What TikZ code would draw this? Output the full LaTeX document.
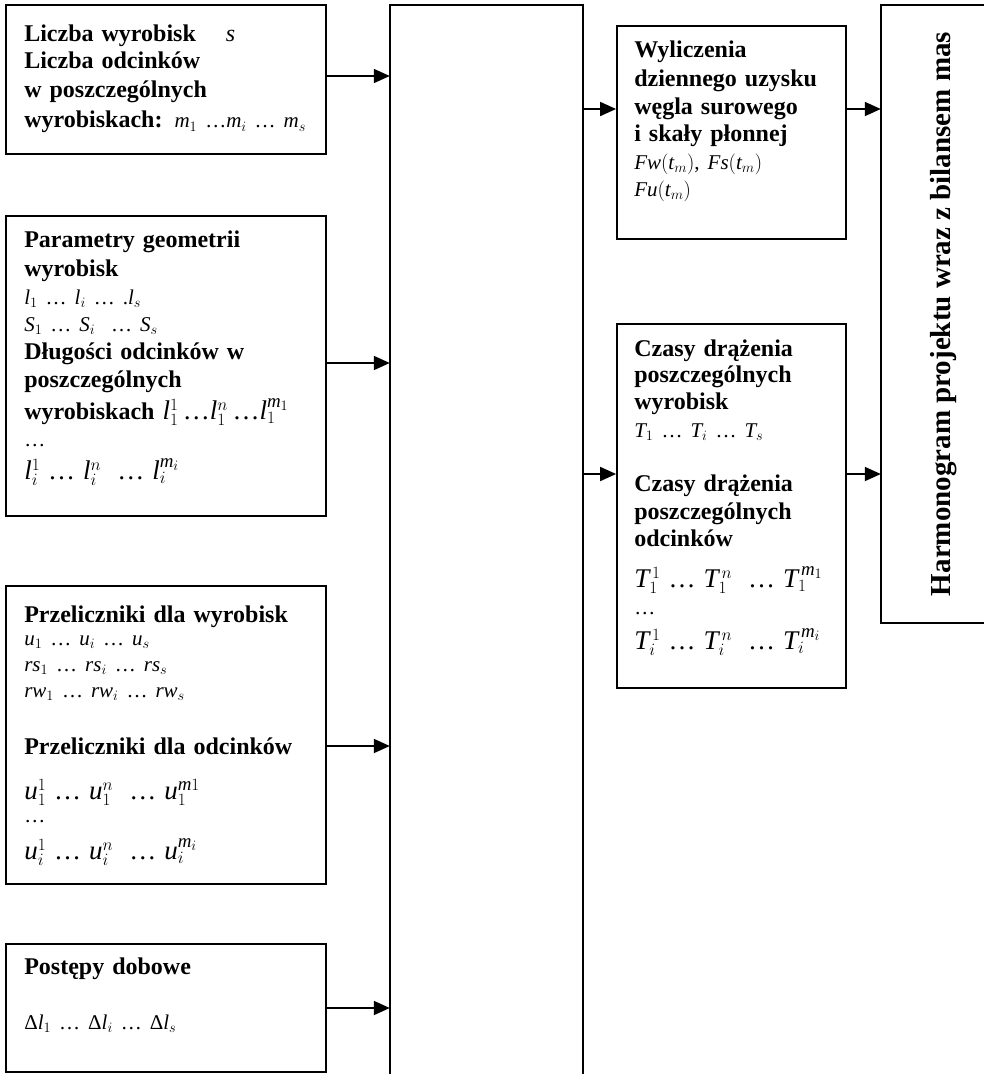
\documentclass[tikz,border=0pt]{standalone}
\usepackage{fontspec}
\setmainfont{Liberation Serif}
\usetikzlibrary{arrows.meta,positioning}
\newcommand{\zm}[1]{\mathit{#1}}
\newcommand{\mniej}{\fontsize{21}{28}\selectfont}
\newcommand{\wiecej}{\fontsize{27}{28}\selectfont}
\newcommand{\tekst}{\fontsize{24}{28}\selectfont\lineskiplimit=-100pt\relax\lineskip=0pt\relax}
\tikzset
{
    blok/.style  = {rectangle, draw=black, line width=1.8pt, inner sep=0pt},
    pole/.style  = {rectangle, inner sep=0pt},
    opis/.style  = {anchor=north west, inner sep=0pt, align=left, text width=300pt, font=\tekst},
    pil/.style   = {line width=1.8pt, -{Triangle[length=16pt,width=14pt]}}
}

\begin{document}
\begin{tikzpicture}[x=1pt,y=-1pt]
\useasboundingbox (0,0) rectangle (984,1074);
% bloki wejsciowe
\node (in1)  [blok,minimum width=320pt,minimum height=149pt] at (166,79.5)  {};
\node (in2)  [blok,minimum width=320pt,minimum height=300pt] at (166,366)   {};
\node (in3)  [blok,minimum width=320pt,minimum height=298pt] at (166,735)   {};
\node (in4)  [blok,minimum width=320pt,minimum height=128pt] at (166,1008)  {};
\node (proc) [pole,minimum width=193pt,minimum height=1069pt] at (486.5,539.5) {};
\node (outA) [blok,minimum width=229pt,minimum height=213pt] at (731.5,132.5) {};
\node (outB) [blok,minimum width=229pt,minimum height=364pt] at (731.5,506)   {};
\node (harm) [pole,minimum width=103pt,minimum height=618pt] at (932.5,314)   {};

\draw[line width=1.8pt] (proc.south west) -- (proc.north west) -- (proc.north east) -- (proc.south east);
\draw[line width=1.8pt] (harm.north east) -- (harm.north west) -- (harm.south west) -- (harm.south east);

% teksty
\node (in1t) [opis] at ([shift={(19,21)}]in1.north west)
  {\textbf{Liczba wyrobisk}\hspace{30pt}$\zm{s}$\\[-1pt]
   \textbf{Liczba odcinków}\\[1pt]
   \textbf{w poszczególnych}\\[2pt]
   \textbf{wyrobiskach:} {\mniej$\zm{m}_1$ \ldots$\zm{m}_i$ \ldots{} $\zm{m}_s$}};
\node (in2t) [opis] at ([shift={(19,15.5)}]in2.north west)
  {\textbf{Parametry geometrii}\\[1pt]
   \textbf{wyrobisk}\\
   {\mniej$\zm{l}_1$ \ldots{} $\zm{l}_i$ \ldots{} .$\zm{l}_s$}\\[-1pt]
   {\mniej$\zm{S}_1$ \ldots{} $\zm{S}_i$ \ \ldots{} $\zm{S}_s$}\\
   \textbf{Długości odcinków w}\\
   \textbf{poszczególnych}\\[4pt]
   \textbf{wyrobiskach} {\wiecej$\zm{l}_1^1$\,\ldots$\zm{l}_1^n$\,\ldots$\zm{l}_1^{\zm{m}_1}$}\\[-1pt]
   {\mniej\ldots}\\[5pt]
   {\wiecej$\zm{l}_i^1$ \ldots{} $\zm{l}_i^n$ \ \ldots{} $\zm{l}_i^{\zm{m}_i}$}};
\node (in3t) [opis] at ([shift={(19,20.5)}]in3.north west)
  {\textbf{Przeliczniki dla wyrobisk}\\[-5pt]
   {\mniej$\zm{u}_1$ \ldots{} $\zm{u}_i$ \ldots{} $\zm{u}_s$}\\[-2pt]
   {\mniej$\zm{rs}_1$ \ldots{} $\zm{rs}_i$ \ldots{} $\zm{rs}_s$}\\[-2pt]
   {\mniej$\zm{rw}_1$ \ldots{} $\zm{rw}_i$ \ldots{} $\zm{rw}_s$}\\[29pt]
   \textbf{Przeliczniki dla odcinków}\\[17pt]
   {\wiecej$\zm{u}_1^1$ \ldots{} $\zm{u}_1^n$ \ \ldots{} $\zm{u}_1^{\zm{m}1}$}\\[-5pt]
   {\mniej\ldots}\\[9pt]
   {\wiecej$\zm{u}_i^1$ \ldots{} $\zm{u}_i^n$ \ \ldots{} $\zm{u}_i^{\zm{m}_i}$}};
\node (in4t) [opis] at ([shift={(19,14.5)}]in4.north west)
  {\textbf{Postępy dobowe}\\[27pt]
   {\mniej Δ$\zm{l}_1$ \ldots{} Δ$\zm{l}_i$ \ldots{} Δ$\zm{l}_s$}};
\node (outAt) [opis,text width=210pt] at ([shift={(18,15.5)}]outA.north west)
  {\textbf{Wyliczenia}\\[1pt]
   \textbf{dziennego uzysku}\\
   \textbf{węgla surowego}\\[-1pt]
   \textbf{i skały płonnej}\\
   {\mniej$\zm{Fw}(\zm{t}_m)$, $\zm{Fs}(\zm{t}_m)$}\\[-1pt]
   {\mniej$\zm{Fu}(\zm{t}_m)$}};
\node (outBt) [opis,text width=210pt] at ([shift={(18,16.5)}]outB.north west)
  {\textbf{Czasy drążenia}\\[-2pt]
   \textbf{poszczególnych}\\[-1pt]
   \textbf{wyrobisk}\\
   {\mniej$\zm{T}_1$ \ldots{} $\zm{T}_i$ \ldots{} $\zm{T}_s$}\\[26pt]
   \textbf{Czasy drążenia}\\
   \textbf{poszczególnych}\\[-1pt]
   \textbf{odcinków}\\[13pt]
   {\wiecej$\zm{T}_1^{\,1}$ \ldots{} $\zm{T}_1^{\,n}$ \ \ldots{} $\zm{T}_1^{\,\zm{m}_1}$}\\[-1pt]
   {\mniej\ldots}\\[7pt]
   {\wiecej$\zm{T}_i^{\,1}$ \ldots{} $\zm{T}_i^{\,n}$ \ \ldots{} $\zm{T}_i^{\,\zm{m}_i}$}};
\node (harmt) [anchor=base,rotate=90,inner sep=0pt,font=\fontsize{29}{32}\selectfont\bfseries]
  at ([xshift=18pt]harm.center) {Harmonogram projektu wraz z bilansem mas};

% strzalki
\path
([yshift=3.5pt]in1.east)  edge[pil] ([yshift=3.5pt]in1.east -| proc.west)
([yshift=3pt]in2.east)    edge[pil] ([yshift=3pt]in2.east -| proc.west)
([yshift=-11pt]in3.east)  edge[pil] ([yshift=-11pt]in3.east -| proc.west)
(in4.east)                edge[pil] (in4.east -| proc.west)
([yshift=23.5pt]outA.west -| proc.east) edge[pil] ([yshift=23.5pt]outA.west)
([yshift=32pt]outB.west -| proc.east)   edge[pil] ([yshift=32pt]outB.west)
([yshift=23.5pt]outA.east) edge[pil] ([yshift=23.5pt]outA.east -| harm.west)
([yshift=32pt]outB.east)   edge[pil] ([yshift=32pt]outB.east -| harm.west);
\end{tikzpicture}
\end{document}
